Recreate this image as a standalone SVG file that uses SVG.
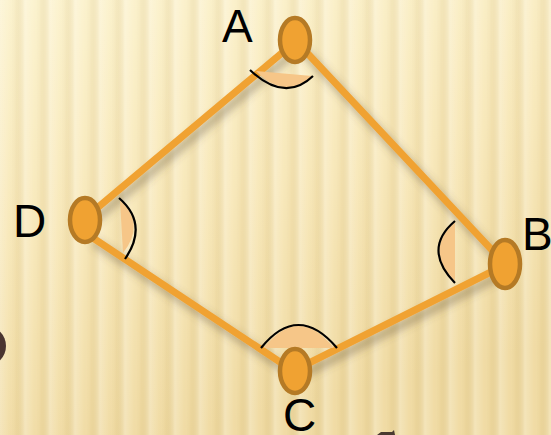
<svg xmlns="http://www.w3.org/2000/svg" width="551" height="435" viewBox="0 0 551 435">
<defs>
<linearGradient id="bg" x1="0" y1="0" x2="0.3" y2="1">
<stop offset="0" stop-color="#FCF3CF"/>
<stop offset="0.5" stop-color="#F8E8B9"/>
<stop offset="1" stop-color="#F0DBA3"/>
</linearGradient>
<linearGradient id="st" x1="0" y1="0" x2="1" y2="0">
<stop offset="0" stop-color="#FFFFFF" stop-opacity="0.25"/>
<stop offset="0.35" stop-color="#FFFFFF" stop-opacity="0.03"/>
<stop offset="0.65" stop-color="#A07820" stop-opacity="0.07"/>
<stop offset="1" stop-color="#FFFFFF" stop-opacity="0.25"/>
</linearGradient>
<pattern id="stripes" x="0" y="0" width="25" height="435" patternUnits="userSpaceOnUse">
<rect width="25" height="435" fill="url(#st)"/>
</pattern>
<filter id="sh" x="-20%" y="-20%" width="140%" height="140%">
<feDropShadow dx="4" dy="6" stdDeviation="4" flood-color="#5A4A30" flood-opacity="0.45"/>
</filter>
<style>
.edge{stroke:#F0A232;stroke-width:7;fill:none;stroke-linecap:butt}
.node{fill:#F0A232;stroke:#B57A25;stroke-width:4.5}
.ang{fill:#F6C688;stroke:none}
.arc{fill:none;stroke:#000;stroke-width:2.2}
.lbl{font-family:"Liberation Sans",Arial,sans-serif;font-size:46px;fill:#000}
</style>
</defs>
<rect width="551" height="435" fill="url(#bg)"/>
<rect width="551" height="435" fill="url(#stripes)"/>
<circle cx="-14" cy="346" r="20" fill="#4A3530"/>
<path d="M377,435 L381,432 L392,432 L394,430 L395,435 Z" fill="#4A3A30"/>
<g id="connectors" filter="url(#sh)">
<line class="edge" x1="90" y1="214" x2="295" y2="42"/>
<line class="edge" x1="295" y1="40" x2="505" y2="264"/>
<line class="edge" x1="90" y1="236" x2="295" y2="372"/>
<line class="edge" x1="295" y1="370" x2="505" y2="265"/>
</g>
<g id="angle-A">
<path class="ang" d="M256,71 Q285,101 312,76 Z"/>
<path class="arc" d="M250,70 Q285,103 313,76"/>
</g>
<g id="angle-D">
<path class="ang" d="M120,200 Q146,224 123,253 Z"/>
<path class="arc" d="M119,198 Q149,224 125,259"/>
</g>
<g id="angle-B">
<path class="ang" d="M455,222 Q424,250 455,281 Z"/>
<path class="arc" d="M455,221 Q422,249 455,283"/>
</g>
<g id="angle-C">
<path class="ang" d="M264,348 Q298,304 334,348 Z"/>
<path class="arc" d="M261,348 Q298,302 337,348"/>
</g>
<g id="node-A"><ellipse class="node" cx="295" cy="40" rx="15" ry="22"/><text class="lbl" x="222" y="42">A</text></g>
<g id="node-B"><ellipse class="node" cx="505" cy="264" rx="15" ry="24"/><text class="lbl" x="522" y="250">B</text></g>
<g id="node-C"><ellipse class="node" cx="295" cy="371" rx="15" ry="22"/><text class="lbl" x="283" y="431">C</text></g>
<g id="node-D"><ellipse class="node" cx="85" cy="220" rx="15" ry="22"/><text class="lbl" x="13" y="237">D</text></g>
</svg>
